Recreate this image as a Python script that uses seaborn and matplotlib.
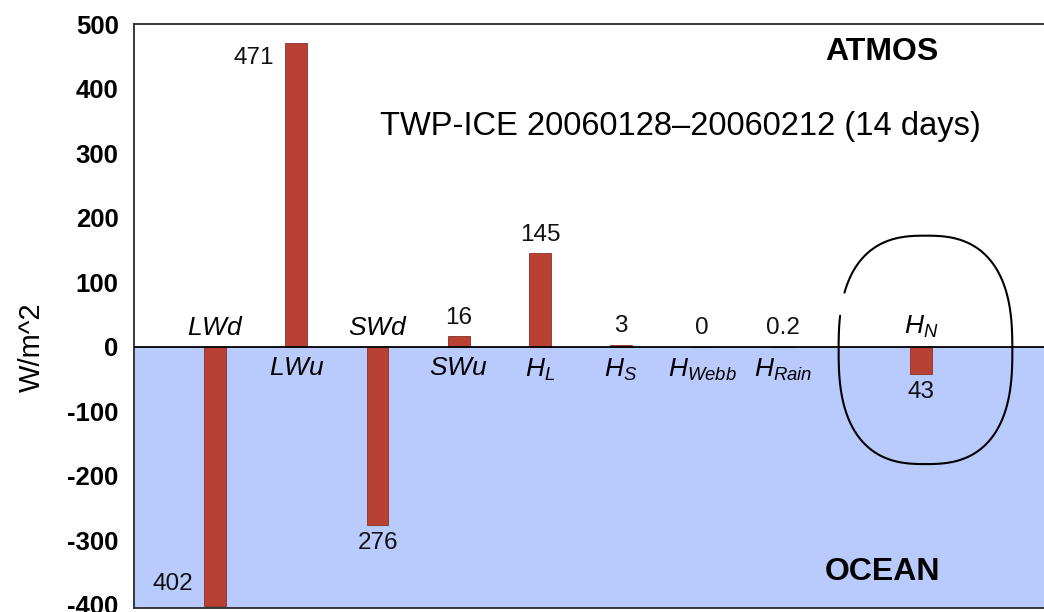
import numpy as np
import pandas as pd
import matplotlib
matplotlib.use("Agg")
import matplotlib.pyplot as plt
import seaborn as sns

# Surface energy budget terms, TWP-ICE period (W/m^2; negative = into the ocean)
terms = ["LWd", "LWu", "SWd", "SWu", "H_L", "H_S", "H_Webb", "H_Rain", "H_N"]
flux = [-402, 471, -276, 16, 145, 3, 0, 0.2, -43]
value_labels = ["402", "471", "276", "16", "145", "3", "0", "0.2", "43"]
term_labels = ["$LWd$", "$LWu$", "$SWd$", "$SWu$", "$H_L$", "$H_S$",
               "$H_{Webb}$", "$H_{Rain}$", "$H_N$"]
yticks = [-400, -300, -200, -100, 0, 100, 200, 300, 400, 500]

# horizontal slots: net flux H_N is set apart from the individual terms
slots = [0, 1, 2, 3, 4, 5, 6, 7, 8.7]

sns.set_theme(style="white")
plt.rcParams["font.family"] = ["Liberation Sans", "DejaVu Sans"]
plt.rcParams["mathtext.fontset"] = "custom"
plt.rcParams["mathtext.rm"] = "Liberation Sans"
plt.rcParams["mathtext.it"] = "Liberation Sans:italic"
plt.rcParams["axes.unicode_minus"] = False
plt.rcParams["text.color"] = "black"
plt.rcParams["axes.labelcolor"] = "black"
plt.rcParams["ytick.color"] = "black"

BAR = "#b94134"
OCEAN = "#b9cafc"

df = pd.DataFrame({"slot": slots, "flux": flux, "term": terms})

fig = plt.figure(figsize=(10.44, 6.12), dpi=100)
ax = fig.add_axes([134 / 1044, 4 / 612, 910 / 1044, 584 / 612])

ymin, ymax = -405, 500
ax.axhspan(ymin, 0, color=OCEAN, zorder=0, lw=0)

sns.barplot(data=df, x="slot", y="flux", native_scale=True, orient="x",
            width=0.27, color=BAR, saturation=1, edgecolor="#8a3026",
            linewidth=0.6, errorbar=None, ax=ax, zorder=2)

ax.axhline(0, color="black", lw=1.3, zorder=3)

ax.set_xlim(-1.0, 10.21)
ax.set_ylim(ymin, ymax)
ax.set_xticks([])
ax.set_yticks(yticks)
ax.set_yticklabels([str(t) for t in yticks], fontsize=18.5, fontweight="bold")
ax.tick_params(axis="y", length=0, pad=11, colors="black")
ax.set_xlabel("")
ax.set_ylabel("W/m^2", fontsize=21, va="center")
ax.yaxis.set_label_coords(-0.112, 0.447)

for side in ["left", "top", "bottom"]:
    ax.spines[side].set_color("#2a2a2a")
    ax.spines[side].set_linewidth(1.3)
ax.spines["right"].set_visible(False)

# term names on the opposite side of the zero line from each bar
for x, v, name in zip(slots, flux, term_labels):
    if v < 0:
        ax.annotate(name, (x, 0), xytext=(0, 5), textcoords="offset points",
                    ha="center", va="bottom", fontsize=19, zorder=4)
    else:
        ax.annotate(name, (x, 0), xytext=(0, -7), textcoords="offset points",
                    ha="center", va="top", fontsize=19, zorder=4)

# magnitudes at the bar ends; long bars get the number beside the tip
for x, v, txt in zip(slots, flux, value_labels):
    if abs(v) > 300:
        if v > 0:
            ax.annotate(txt, (x - 0.135, v), xytext=(-8, -3),
                        textcoords="offset points", ha="right", va="top",
                        fontsize=17.5, color="#111111", zorder=4)
        else:
            ax.annotate(txt, (x - 0.135, v), xytext=(-8, 8),
                        textcoords="offset points", ha="right", va="bottom",
                        fontsize=17.5, color="#111111", zorder=4)
    elif v >= 0:
        ax.annotate(txt, (x, v), xytext=(0, 9), textcoords="offset points",
                    ha="center", va="baseline", fontsize=17.5,
                    color="#111111", zorder=4)
    else:
        ax.annotate(txt, (x, v), xytext=(0, -5), textcoords="offset points",
                    ha="center", va="top", fontsize=17.5,
                    color="#111111", zorder=4)

ax.text(0.6, 0.824, "TWP-ICE 20060128\u201320060212 (14 days)",
        transform=ax.transAxes, ha="center", va="center", fontsize=23.5)
ax.text(0.822, 0.952, "ATMOS", transform=ax.transAxes, ha="center",
        va="center", fontsize=23, fontweight="heavy")
ax.text(0.822, 0.062, "OCEAN", transform=ax.transAxes, ha="center",
        va="center", fontsize=23, fontweight="heavy")

# hand-drawn style loop around the net flux bar, open at the upper left
cx, cy = slots[-1] + 0.05, -5
a, b, n = 1.07, 177, 2.6
t = np.linspace(np.pi - 0.21, 3 * np.pi - 0.42, 400)
lx = cx + a * np.sign(np.cos(t)) * np.abs(np.cos(t)) ** (2 / n)
ly = cy + b * np.sign(np.sin(t)) * np.abs(np.sin(t)) ** (2 / n)
ax.plot(lx, ly, color="black", lw=1.5, zorder=5, clip_on=False)

fig.savefig("out.png", dpi=100)
